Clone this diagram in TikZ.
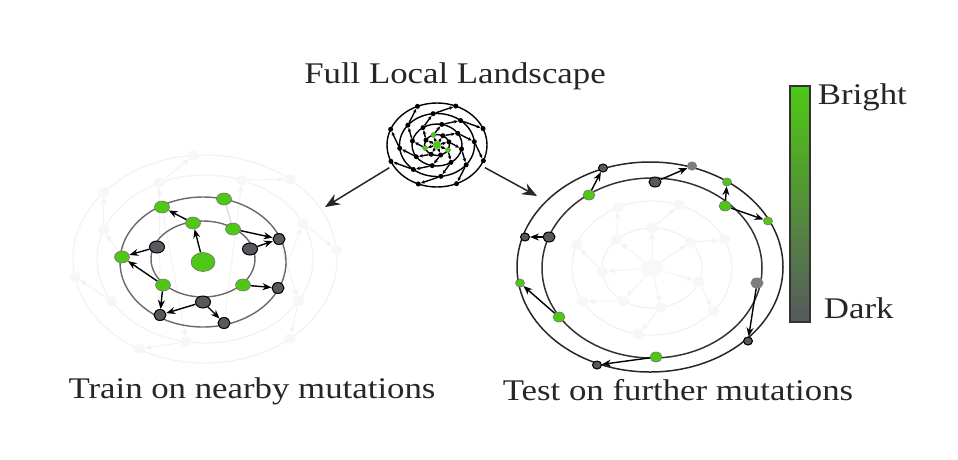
\documentclass[tikz,border=0pt]{standalone}
\usepackage{fontspec}
\setmainfont{Liberation Serif}[FakeStretch=1.16]
\usetikzlibrary{arrows.meta,shapes.geometric,positioning,backgrounds}
\definecolor{bright}{RGB}{78,200,20}
\definecolor{dark}{RGB}{88,88,94}
\definecolor{mid}{RGB}{125,125,128}
\definecolor{rim}{RGB}{105,105,105}
\colorlet{faint}{black!5}

\tikzset{
  lbl/.style={font=\fontsize{30}{36}\selectfont, text=black!85, inner sep=0pt},
  gnode/.style={ellipse, draw=black!55, fill=bright, minimum width=15pt, minimum height=12pt, inner sep=0pt, line width=0.6pt},
  dnode/.style={ellipse, draw=black, fill=dark, minimum width=15pt, minimum height=12pt, inner sep=0pt, line width=1pt},
  ghost/.style={ellipse, fill=black!3, minimum width=12pt, minimum height=10pt, inner sep=0pt},
  tdot/.style={circle, fill=black, minimum size=5pt, inner sep=0pt},
  link/.style={-{Stealth[length=9pt,width=7pt]}, line width=1.4pt, black},
  glink/.style={-{Stealth[length=7pt,width=6pt]}, line width=1pt, faint},
  tlink/.style={-{Stealth[length=4pt,width=3.5pt]}, line width=1.4pt, black},
  bigarrow/.style={-{Stealth[length=15pt,width=12pt,inset=5pt]}, line width=1.5pt, black!85},
}

\begin{document}
\begin{tikzpicture}[x=1pt,y=-1pt]
\useasboundingbox (0,0) rectangle (958,459);

% labels
\node[lbl, anchor=base] (title) at (455,83) {Full Local Landscape};
\node[lbl, anchor=base] (train) at (252,398) {Train on nearby mutations};
\node[lbl, anchor=base] (test) at (678,400) {Test on further mutations};

% full local landscape (small, top)
\node[ellipse, draw, line width=1.4pt, minimum width=100pt, minimum height=84pt, inner sep=0pt] (full) at (437,145) {};
\begin{scope}[shift={(437,145)}]
  \foreach \r in {1,2,3} \draw[line width=1.4pt] (0,0) ellipse ({12.5*\r} and {10.5*\r});
  \node[tdot, fill=bright, minimum size=8pt] (t0) at (0,0) {};
  \foreach \s in {0,...,7} {
    \foreach \k in {1,...,4}
      \node[tdot] (t\s-\k) at ({\s*45+\k*28}:{12.5*\k} and {10.5*\k}) {};
    \draw[tlink] (t0) -- (t\s-1);
    \draw[tlink] (t\s-1) -- (t\s-2);
    \draw[tlink] (t\s-2) -- (t\s-3);
    \draw[tlink] (t\s-3) -- (t\s-4);
  }
  \foreach \s in {0,3,5} \node[tdot, fill=bright] at (t\s-1) {};
\end{scope}

\coordinate (trainhead) at (325,207);
\coordinate (testhead) at (537,196);
\draw[bigarrow, shorten <=4pt] (full.205) -- (trainhead);
\draw[bigarrow, shorten <=4pt] (full.-25) -- (testhead);

% nearby mutations (left)
\draw[faint, line width=1.2pt] (205,259) ellipse (132 and 104);
\draw[faint, line width=1.2pt] (205,259) ellipse (108 and 84);
\begin{scope}[shift={(205,259)}]
  \foreach \a [count=\i] in {100,150,200,245,290,335,30}
    \node[ghost] (lg\i) at (\a:108 and 84) {};
  \foreach \a [count=\i] in {120,170,220,265,310,355,50}
    \node[ghost] (lh\i) at (\a:132 and 104) {};
  \foreach \i in {1,...,7} \draw[glink] (lg\i) -- (lh\i);
\end{scope}

\draw[rim, line width=1.4pt] (203,259) ellipse (52 and 38);
\draw[rim, line width=1.4pt] (203,262) ellipse (83 and 65);

\node[gnode, minimum width=24pt, minimum height=19pt] (c0) at (203,262) {};
\node[gnode] (i1) at (193,223) {};
\node[gnode] (i2) at (233,229) {};
\node[dnode] (i3) at (250,249) {};
\node[gnode] (i4) at (243,285) {};
\node[dnode] (i5) at (203,302) {};
\node[gnode] (i6) at (163,285) {};
\node[dnode] (i7) at (157,247) {};
\node[gnode] (o1) at (162,207) {};
\node[gnode] (o2) at (224,199) {};
\node[dnode, minimum width=12pt, minimum height=11pt] (o3) at (279,239) {};
\node[dnode, minimum width=12pt, minimum height=11pt] (o4) at (278,288) {};
\node[dnode, minimum width=12pt, minimum height=11pt] (o5) at (224,323) {};
\node[dnode, minimum width=12pt, minimum height=11pt] (o6) at (160,315) {};
\node[gnode] (o7) at (122,257) {};

\foreach \n in {i1,...,i7} \draw[link] (c0) -- (\n);
\draw[link] (i1) -- (o1);
\draw[link] (i2) -- (o3);
\draw[link] (i3) -- (o3);
\draw[link] (i4) -- (o4);
\draw[link] (i5) -- (o5);
\draw[link] (i5) -- (o6);
\draw[link] (i6) -- (o6);
\draw[link] (i6) -- (o7);
\draw[link] (i7) -- (o7);
\begin{scope}[on background layer]
  \draw[black!15, line width=1.2pt] (i2) -- (o2);
  \foreach \o/\g in {o1/lg1,o7/lg3,o6/lg4,o5/lg5,o4/lg6,o3/lg7}
    \draw[glink] (\o) -- (\g);
\end{scope}

% further mutations (right)
\draw[faint, line width=1.2pt] (652,268) ellipse (80 and 67);
\draw[faint, line width=1.2pt] (652,268) ellipse (50 and 40);
\begin{scope}[shift={(652,268)}]
  \node[ghost, fill=green!4!black!3, minimum width=22pt, minimum height=18pt] (r0) at (0,0) {};
  \foreach \a [count=\i] in {80,125,175,225,270,320,20}
    \node[ghost] (rg\i) at (\a:50 and 40) {};
  \foreach \a [count=\i] in {100,150,200,245,290,335,40}
    \node[ghost] (rh\i) at (\a:80 and 67) {};
  \foreach \i in {1,...,7} {
    \draw[glink] (r0) -- (rg\i);
    \draw[glink] (rg\i) -- (rh\i);
  }
\end{scope}

\draw[black!80, line width=1.5pt] (652,268) ellipse (110 and 90);
\draw[black!85, line width=1.5pt] (650,267) ellipse (133 and 105);

\node[dnode, minimum width=12pt, minimum height=10pt] (u1) at (655,182) {};
\node[gnode, minimum width=12pt, minimum height=10pt] (u2) at (589,195) {};
\node[gnode, minimum width=12pt, minimum height=10pt] (u3) at (725,206) {};
\node[dnode, minimum width=12pt, minimum height=10pt] (u4) at (549,237) {};
\node[dnode, draw=mid, fill=mid, minimum width=12pt, minimum height=10pt] (u5) at (757,283) {};
\node[gnode, minimum width=12pt, minimum height=10pt] (u6) at (559,317) {};
\node[gnode, minimum width=12pt, minimum height=10pt] (u7) at (656,357) {};
\node[dnode, minimum width=9pt, minimum height=8pt] (w1) at (603,168) {};
\node[dnode, draw=mid, fill=mid, minimum width=9pt, minimum height=8pt] (w2) at (692,166) {};
\node[gnode, minimum width=9pt, minimum height=8pt] (w3) at (727,182) {};
\node[gnode, minimum width=9pt, minimum height=8pt] (w4) at (768,221) {};
\node[dnode, minimum width=9pt, minimum height=8pt] (w5) at (525,237) {};
\node[gnode, minimum width=9pt, minimum height=8pt] (w6) at (520,283) {};
\node[dnode, minimum width=9pt, minimum height=8pt] (w7) at (748,341) {};
\node[dnode, minimum width=9pt, minimum height=8pt] (w8) at (597,365) {};

\draw[link] (u2) -- (w1);
\draw[link] (u1) -- (w2);
\draw[link] (u3) -- (w3);
\draw[link] (u3) -- (w4);
\draw[link] (u4) -- (w5);
\draw[link] (u6) -- (w6);
\draw[link] (u5) -- (w7);
\draw[link] (u7) -- (w8);

% colour bar
\node[draw=black!80, line width=1.5pt, top color=bright, bottom color=dark,
      minimum width=20pt, minimum height=236pt, inner sep=0pt] (bar) at (800,204) {};
\node[lbl, anchor=base west] (brightlbl) at ([xshift=7pt, yshift=-19pt]bar.north east) {Bright};
\node[lbl, anchor=base west] (darklbl) at ([xshift=13pt, yshift=4pt]bar.south east) {Dark};

\end{tikzpicture}
\end{document}
